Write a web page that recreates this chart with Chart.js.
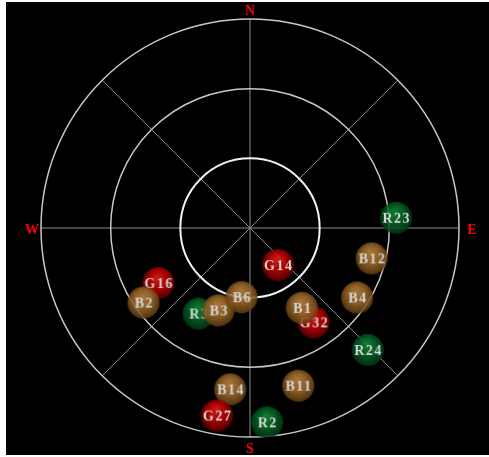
<!DOCTYPE html>
<html>
<head>
<meta charset="utf-8">
<script src="https://cdn.jsdelivr.net/npm/chart.js@4"></script>
<style>
  html, body { margin: 0; padding: 0; background: #fff; }
  #wrap { position: relative; width: 489px; height: 457px; }
</style>
</head>
<body>
<div id="wrap"><canvas id="skyChart"></canvas></div>
<script>
// satellites, listed in drawing order (later ones sit on top)
const sats = ["G16", "R3", "G32", "B14", "B2", "B3", "B6", "B1", "G27", "G14", "R23", "B12", "B4", "R24", "B11", "R2"];
const azimuth = [239, 211, 146, 187, 235, 201, 187, 147, 190, 143, 86, 104, 123, 136, 163, 175];
const elevation = [44, 47, 41, 20, 34, 52, 60, 49, 8, 70, 27, 36, 35, 17, 19, 6];

const rings = [60, 30, 0];          // elevation circles
const spokes = [0, 45, 90, 135, 180, 225, 270, 315];
const cardinals = ["N", "E", "S", "W"];
const cardinalGap = [10, 13, 10, 9];

const palette = {
  G: ["#e82020", "#c80000", "#5c0000"],
  R: ["#15903a", "#07692b", "#013512"],
  B: ["#c08a45", "#a46d2b", "#5e3c12"],
};

// sky position -> x/y on a -90..90 plane (zenith distance)
const points = sats.map((s, i) => {
  const z = 90 - elevation[i];
  const a = azimuth[i] * Math.PI / 180;
  return { x: z * Math.sin(a), y: z * Math.cos(a) };
});

function ball(name) {
  const c = document.createElement("canvas");
  c.width = 34; c.height = 34;
  const g = c.getContext("2d");
  const col = palette[name[0]];
  const grad = g.createRadialGradient(16, 11, 1, 17, 16, 17);
  grad.addColorStop(0, col[0]);
  grad.addColorStop(0.5, col[1]);
  grad.addColorStop(1, col[2]);
  g.globalAlpha = 0.85;
  g.fillStyle = grad;
  g.beginPath();
  g.arc(17, 17, 16, 0, Math.PI * 2);
  g.fill();
  g.globalAlpha = 1;
  g.font = 'bold 14px "Liberation Serif"';
  g.letterSpacing = "1.5px";
  g.fillStyle = "#d6d6d6";
  g.textAlign = "center";
  g.textBaseline = "middle";
  g.fillText(name, 17.8, 18.5);
  return c;
}
const balls = sats.map(ball);

const skyGrid = {
  id: "skyGrid",
  beforeDraw(chart) {
    const ctx = chart.ctx;
    ctx.save();
    ctx.fillStyle = "#000";
    ctx.fillRect(6, 2, 483, 453);
    ctx.restore();
  },
  beforeDatasetsDraw(chart) {
    const ctx = chart.ctx;
    const sx = chart.scales.x, sy = chart.scales.y;
    const cx = sx.getPixelForValue(0), cy = sy.getPixelForValue(0);
    const unit = sx.getPixelForValue(90) - cx;
    ctx.save();
    // spokes
    ctx.strokeStyle = "#8c8c8c";
    ctx.lineWidth = 1;
    spokes.forEach(d => {
      const a = d * Math.PI / 180;
      ctx.beginPath();
      ctx.moveTo(cx, cy);
      ctx.lineTo(sx.getPixelForValue(90 * Math.sin(a)), sy.getPixelForValue(90 * Math.cos(a)));
      ctx.stroke();
    });
    // elevation rings
    rings.forEach(el => {
      const r = (sx.getPixelForValue(90 - el) - cx);
      ctx.strokeStyle = el === 60 ? "#f2f2f2" : "#c8c8c8";
      ctx.lineWidth = el === 60 ? 2 : 1.5;
      ctx.beginPath();
      ctx.arc(cx, cy, r, 0, Math.PI * 2);
      ctx.stroke();
    });
    // cardinal letters
    ctx.fillStyle = "#ff0000";
    ctx.font = 'bold 14px "Liberation Serif"';
    ctx.textAlign = "center";
    ctx.textBaseline = "middle";
    cardinals.forEach((t, i) => {
      const a = i * Math.PI / 2;
      const r = unit + cardinalGap[i];
      ctx.fillText(t, cx + r * Math.sin(a), cy - r * Math.cos(a) + 2);
    });
    ctx.restore();
  },
};

new Chart(document.getElementById("skyChart").getContext("2d"), {
  type: "scatter",
  data: {
    datasets: [
      {
        data: points,
        pointStyle: (c) => balls[c.dataIndex],
        pointRadius: 16,
      },
    ],
  },
  options: {
    responsive: true,
    maintainAspectRatio: false,
    animation: false,
    events: [],
    layout: { padding: { left: 41, right: 30, top: 19, bottom: 20 } },
    scales: {
      x: { type: "linear", min: -90, max: 90, display: false },
      y: { type: "linear", min: -90, max: 90, display: false },
    },
    plugins: {
      legend: { display: false },
      tooltip: { enabled: false },
    },
  },
  plugins: [skyGrid],
});
</script>
</body>
</html>
